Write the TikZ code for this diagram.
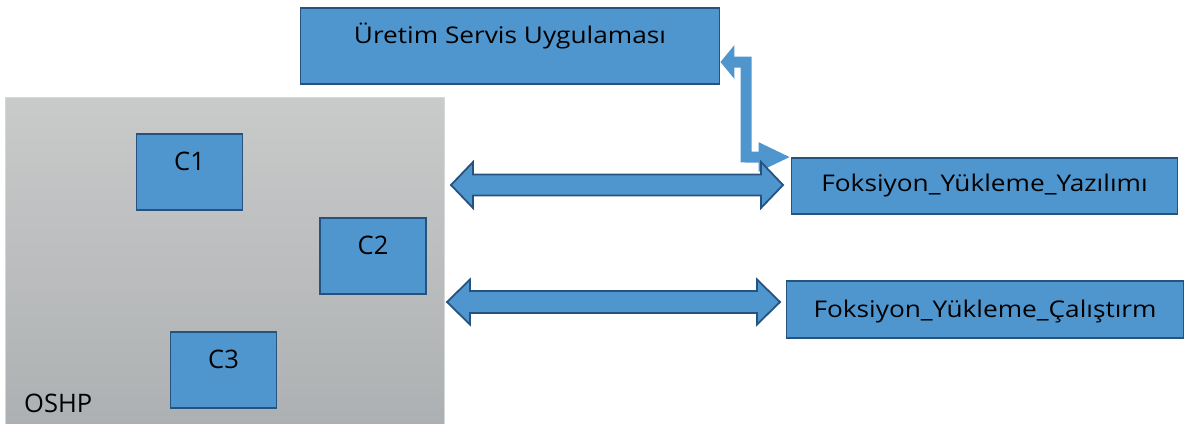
\documentclass[tikz,border=0pt]{standalone}
\usepackage{fontspec}
\setmainfont{Open Sans}
\newfontfamily\widefont[FakeStretch=1.14]{Open Sans}
\usetikzlibrary{arrows.meta,calc}
\pgfdeclarelayer{bg}
\pgfsetlayers{bg,main}
\definecolor{bfill}{RGB}{80,150,206}
\definecolor{bline}{RGB}{38,82,128}
\definecolor{gtop}{RGB}{201,202,202}
\definecolor{gbot}{RGB}{173,176,178}
\definecolor{gedge}{RGB}{214,215,215}
\newcommand\dblarrowpoly[5]{%
  \draw[dblbody] let \p1=(#1), \p2=(#2) in
    (\x1,\y1) -- (\x1+#3pt,\y1+#4pt) -- (\x1+#3pt,\y1+#5pt) -- (\x2-#3pt,\y1+#5pt)
    -- (\x2-#3pt,\y1+#4pt) -- (\x2,\y2) -- (\x2-#3pt,\y2-#4pt) -- (\x2-#3pt,\y2-#5pt)
    -- (\x1+#3pt,\y1-#5pt) -- (\x1+#3pt,\y1-#4pt) -- cycle;}
\begin{document}
\begin{tikzpicture}[x=1pt,y=-1pt,
  bigbox/.style={draw=bline, fill=bfill, line width=1.8pt, inner sep=0pt, anchor=base,
    font=\widefont\fontsize{23}{28}\selectfont},
  cbox/.style={draw=bline, fill=bfill, line width=1.8pt, inner sep=0pt, anchor=base,
    minimum width=106pt, text height=36pt, text depth=40pt,
    font=\fontsize{25.5}{30}\selectfont},
  dblbody/.style={draw=bline, fill=bfill, line width=1.8pt, line join=miter},
  elbow/.style={draw=bfill, line width=11pt, line join=miter,
    {Triangle[length=14pt,width=33pt]}-{Triangle[length=32pt,width=27pt]}}]
\useasboundingbox (0,0) rectangle (1185,423);
% container
\begin{pgfonlayer}{bg}
\node[draw=gedge, line width=0.8pt, top color=gtop, bottom color=gbot,
  minimum width=439pt, minimum height=330pt, inner sep=0pt, anchor=north west] (oshp) at (5,97) {};
\end{pgfonlayer}
\node[anchor=base west, inner sep=0pt, font=\fontsize{25.5}{30}\selectfont] (oshplbl) at (24,412) {OSHP};
% component boxes
\node[cbox] (c1) at (189.5,170) {C1};
\node[cbox] (c2) at (373,254) {C2};
\node[cbox] (c3) at (223.5,368) {C3};
% right boxes
\node[bigbox, minimum width=419pt, text height=35pt, text depth=41pt] (ur) at (510,43) {Üretim Servis Uygulaması};
\node[bigbox, minimum width=386pt, text height=33pt, text depth=23pt] (fy) at (984.5,191) {Foksiyon\_Yükleme\_Yazılımı};
\node[bigbox, minimum width=397pt, text height=36pt, text depth=21pt] (fc) at (985,317) {Foksiyon\_Yükleme\_Çalıştırm};
% elbow connector (behind the boxes)
\begin{pgfonlayer}{bg}
\draw[elbow] (ur.east |- 0,62) -- (746,62) -- (746,157) -- (fy.north west);
\end{pgfonlayer}
% double arrows
\coordinate (a1l) at (451,185);
\coordinate (a1r) at (783,185);
\coordinate (a2l) at (447,302);
\coordinate (a2r) at (780,302);
\dblarrowpoly{a1l}{a1r}{22}{23}{10.5}
\dblarrowpoly{a2l}{a2r}{23}{22.5}{11}
\end{tikzpicture}
\end{document}
